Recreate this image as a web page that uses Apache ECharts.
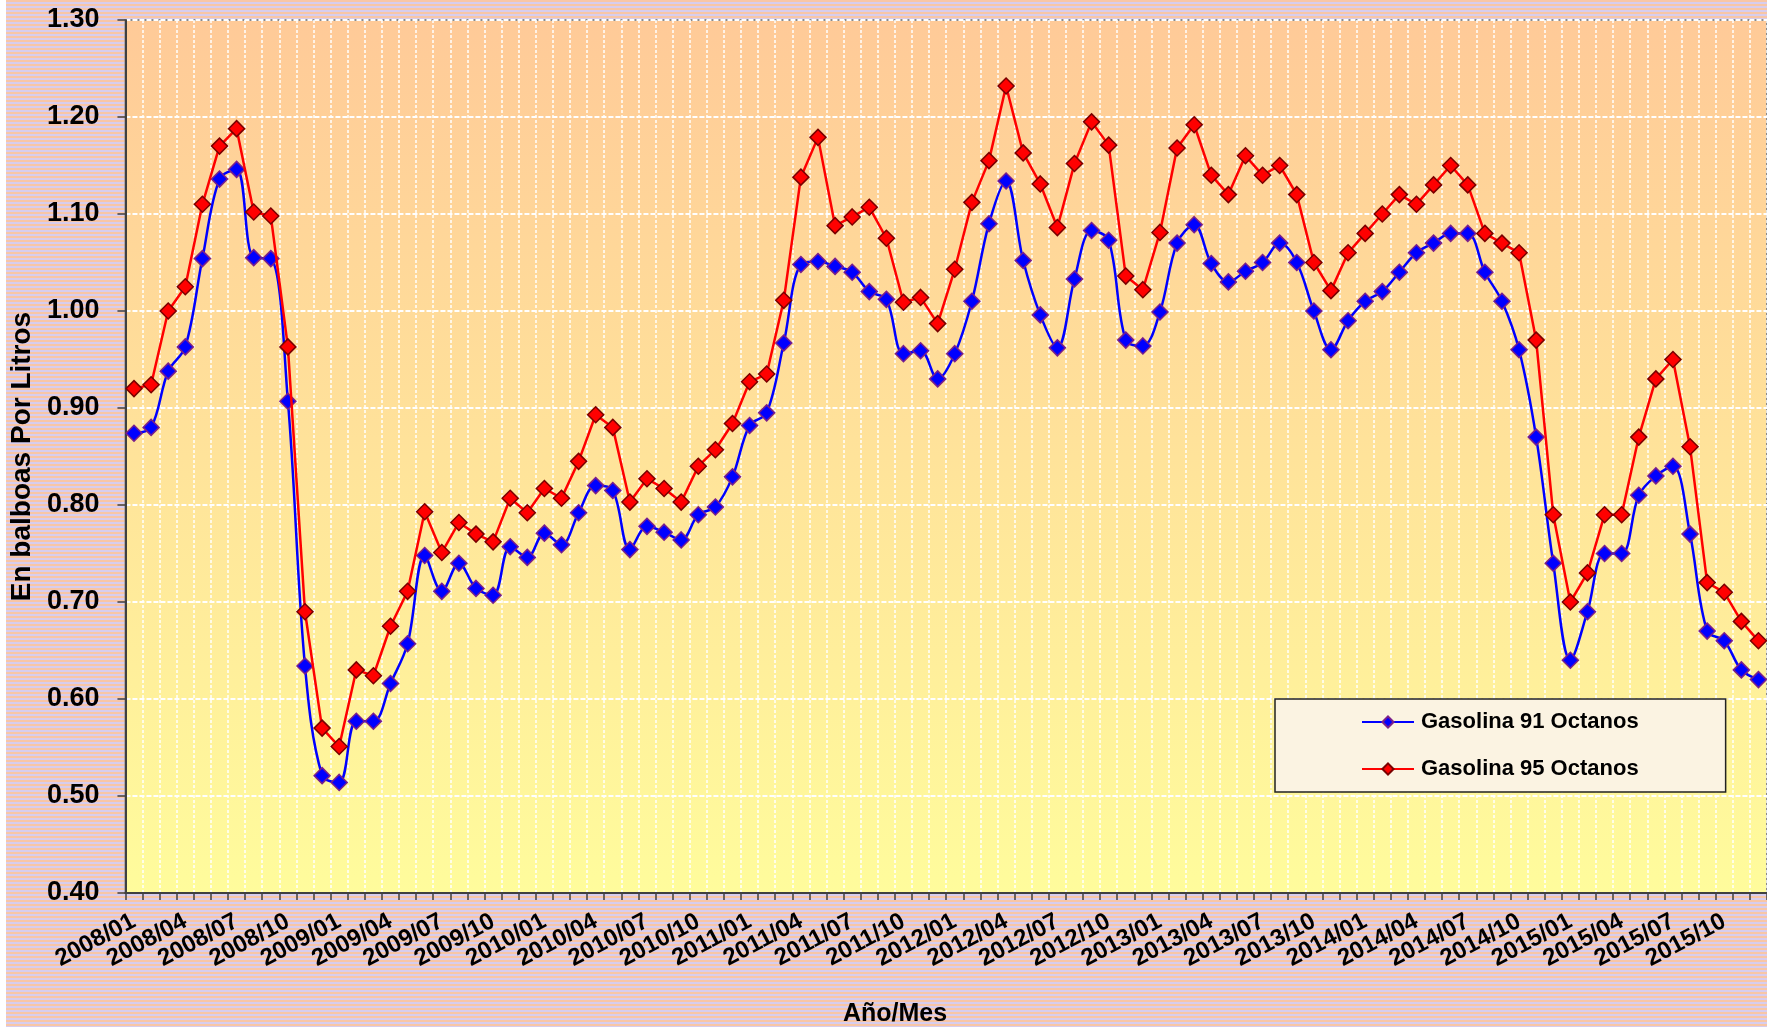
<!DOCTYPE html>
<html>
<head>
<meta charset="utf-8">
<script src="https://cdn.jsdelivr.net/npm/echarts@6/dist/echarts.min.js"></script>
<style>
html,body{margin:0;padding:0;background:#fff;}
#wrap{position:absolute;left:0;top:0;width:1767px;height:1027px;
  background:repeating-linear-gradient(to bottom,#F8C6A6 0px,#F8C6A6 2px,#D7CDEE 2px,#D7CDEE 4px);}
#strip{position:absolute;left:0;top:0;width:6px;height:1027px;background:#fff;}
#chart{position:absolute;left:0;top:0;width:1767px;height:1027px;}
</style>
</head>
<body>
<div id="wrap"></div>
<div id="strip"></div>
<div id="chart"></div>
<script>
// Data
var years = [2008, 2009, 2010, 2011, 2012, 2013, 2014, 2015];
var months = ['01','02','03','04','05','06','07','08','09','10','11','12'];
var categories = [];
years.forEach(function(y){ months.forEach(function(m){ categories.push(y + '/' + m); }); });

var gasolina91 = [
  0.874,0.880,0.938,0.963,1.054,1.136,1.146,1.055,1.054,0.907,0.634,0.521,
  0.514,0.577,0.577,0.616,0.657,0.748,0.711,0.740,0.714,0.707,0.757,0.746,
  0.771,0.759,0.792,0.820,0.815,0.754,0.778,0.772,0.764,0.790,0.798,0.829,
  0.882,0.895,0.967,1.048,1.051,1.046,1.040,1.020,1.012,0.956,0.959,0.930,
  0.956,1.010,1.090,1.134,1.052,0.996,0.962,1.033,1.083,1.073,0.970,0.964,
  0.999,1.070,1.089,1.049,1.030,1.041,1.050,1.070,1.050,1.000,0.960,0.990,
  1.010,1.020,1.040,1.060,1.070,1.080,1.080,1.040,1.010,0.960,0.870,0.740,
  0.640,0.690,0.750,0.750,0.810,0.830,0.840,0.770,0.670,0.660,0.630,0.620
];
var gasolina95 = [
  0.920,0.924,1.000,1.025,1.110,1.170,1.188,1.102,1.098,0.963,0.690,0.570,
  0.551,0.630,0.624,0.675,0.711,0.793,0.751,0.782,0.770,0.762,0.807,0.792,
  0.817,0.807,0.845,0.893,0.880,0.803,0.827,0.817,0.803,0.840,0.857,0.884,
  0.927,0.935,1.011,1.138,1.179,1.088,1.097,1.107,1.075,1.009,1.014,0.987,
  1.043,1.112,1.155,1.232,1.163,1.131,1.086,1.152,1.195,1.171,1.036,1.022,
  1.081,1.168,1.192,1.140,1.120,1.160,1.140,1.150,1.120,1.050,1.021,1.060,
  1.080,1.100,1.120,1.110,1.130,1.150,1.130,1.080,1.070,1.060,0.970,0.790,
  0.700,0.730,0.790,0.790,0.870,0.930,0.950,0.860,0.720,0.710,0.680,0.660
];
var seriesNames = ['Gasolina 91 Octanos', 'Gasolina 95 Octanos'];
var yMin = 0.40, yMax = 1.30, yStep = 0.10;

var FONT = '"Liberation Sans", Arial, sans-serif';
var chart = echarts.init(document.getElementById('chart'), null, {renderer:'canvas'});
chart.setOption({
  backgroundColor: 'transparent',
  animation: false,
  grid: {
    left: 122, top: 20, right: 0, bottom: 134,
    show: true,
    backgroundColor: new echarts.graphic.LinearGradient(0,0,0,1,[
      {offset:0, color:'#FFCA98'},{offset:0.5, color:'#FFE39A'},{offset:1, color:'#FFFC9C'}
    ]),
    borderColor: '#8a8a8a', borderWidth: 2
  },
  legend: {
    orient: 'vertical',
    left: 1275, top: 699,
    padding: [12, 87, 12, 86],
    itemGap: 25,
    itemWidth: 52, itemHeight: 14,
    backgroundColor: '#FBF3E2',
    borderColor: '#222', borderWidth: 1.5,
    textStyle: {fontFamily: FONT, fontWeight: 'bold', fontSize: 22, color: '#000', padding:[0,0,0,2]},
    data: seriesNames
  },
  xAxis: {
    type: 'category',
    data: categories,
    boundaryGap: true,
    axisLine: {lineStyle: {color: '#404040', width: 2}},
    axisTick: {show: true, interval: 0, length: 7, lineStyle: {color: '#404040', width: 1.5}},
    axisLabel: {interval: 2, rotate: 28, margin: 27, fontFamily: FONT, fontWeight: 'bold', fontSize: 24, color: '#000'},
    splitLine: {show: true, interval: 0, lineStyle: {color: '#ffffff', width: 1.5, type: [3, 2]}}
  },
  yAxis: {
    type: 'value',
    min: yMin, max: yMax, interval: yStep,
    name: 'En balboas Por Litros',
    nameLocation: 'middle',
    nameGap: 73,
    nameTextStyle: {fontFamily: FONT, fontWeight: 'bold', fontSize: 28, color: '#000'},
    axisLine: {show: true, lineStyle: {color: '#404040', width: 2}},
    axisTick: {show: true, length: 8, lineStyle: {color: '#404040', width: 1.5}},
    axisLabel: {margin: 26, fontFamily: FONT, fontWeight: 'bold', fontSize: 27, color: '#000',
      formatter: function(v){ return v.toFixed(2); }},
    splitLine: {show: true, lineStyle: {color: '#ffffff', width: 2, type: [5, 2]}}
  },
  graphic: [{
    type: 'text', left: 843, top: 1002, z: 10,
    style: {text: 'Año/Mes', font: 'bold 25px "Liberation Sans", Arial, sans-serif', fill: '#000'}
  }],
  series: [
    {
      name: seriesNames[0], type: 'line', data: gasolina91,
      smooth: 0.35,
      showAllSymbol: true,
      symbol: 'diamond', symbolSize: 16,
      lineStyle: {color: '#0000FF', width: 2.5},
      itemStyle: {color: '#0000FF', borderColor: '#7A1F8A', borderWidth: 1.5},
      z: 2
    },
    {
      name: seriesNames[1], type: 'line', data: gasolina95,
      smooth: false,
      showAllSymbol: true,
      symbol: 'diamond', symbolSize: 16,
      lineStyle: {color: '#FF0000', width: 2.5},
      itemStyle: {color: '#FF0000', borderColor: '#7A0000', borderWidth: 1.5},
      z: 3
    }
  ]
});
</script>
</body>
</html>
